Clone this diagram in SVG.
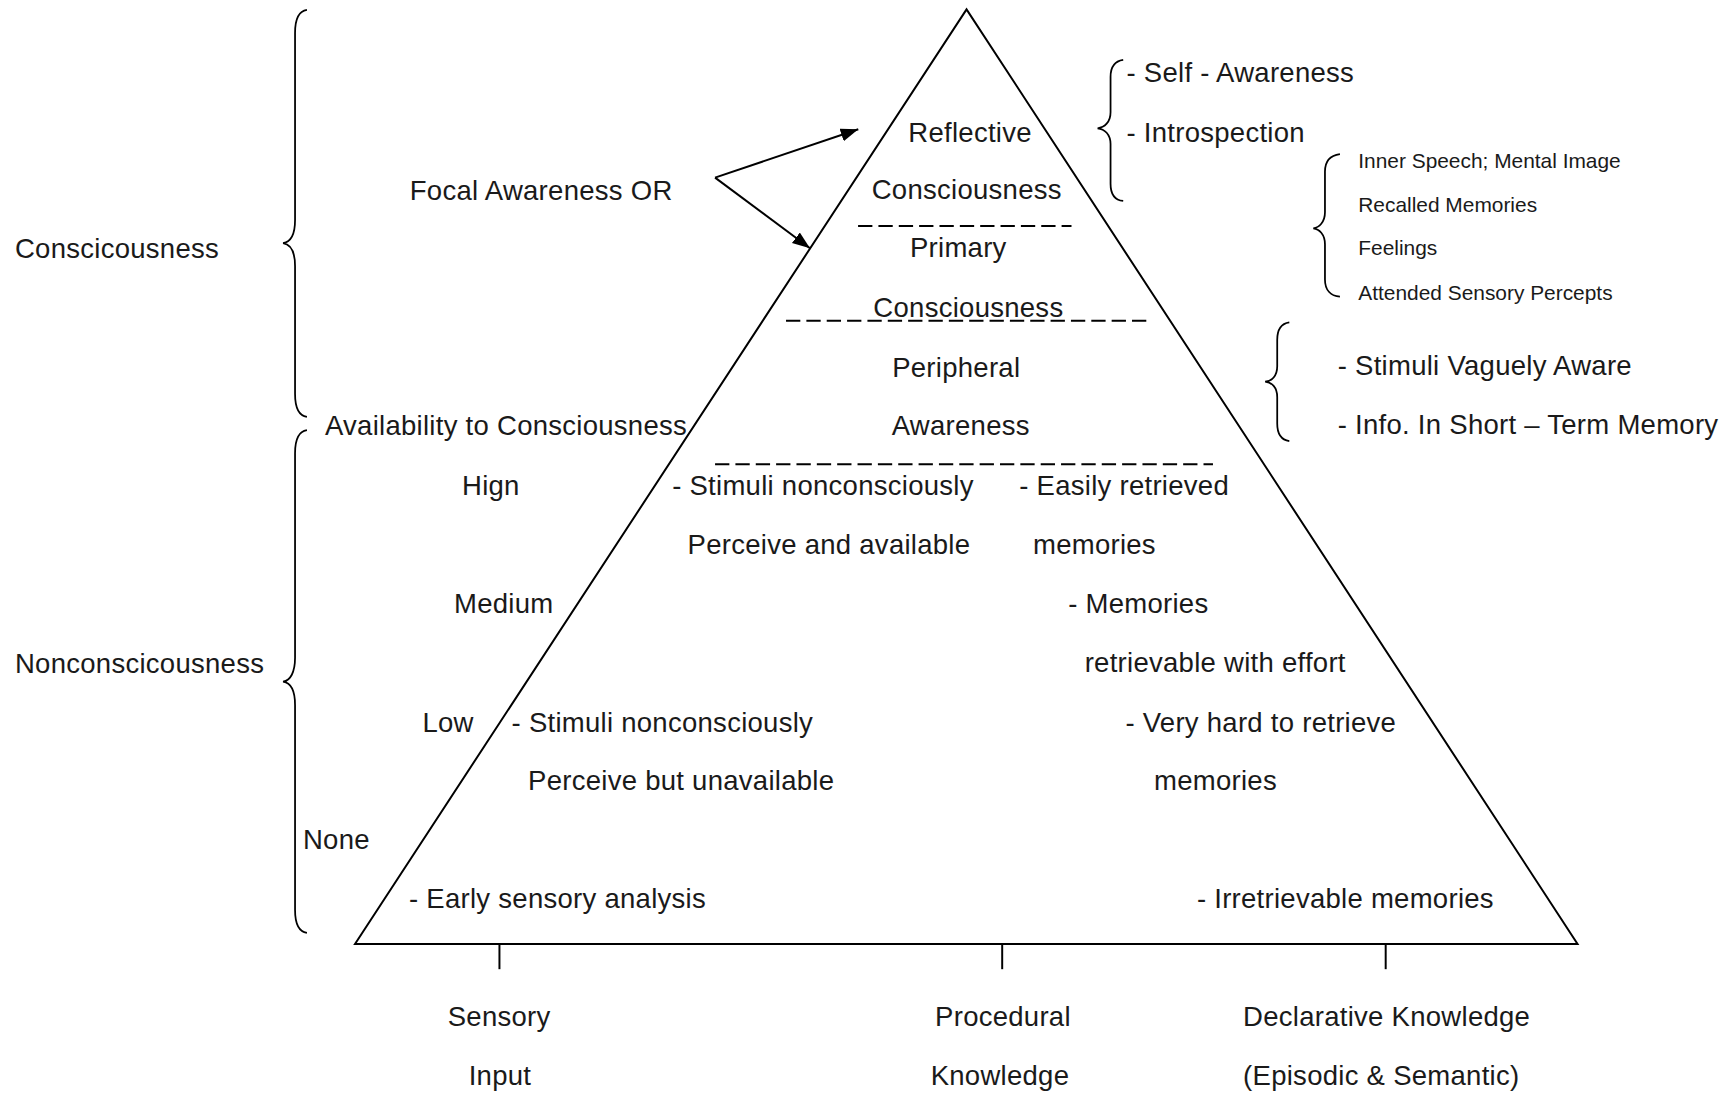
<svg xmlns="http://www.w3.org/2000/svg" width="1725" height="1094" viewBox="0 0 1725 1094">
  <style>
    text { font-family: "Liberation Sans", Arial, sans-serif; fill: #1a1a1a; }
    .t { font-size: 25px; letter-spacing: 0.25px; }
    .s { font-size: 19px; }
    .ln { stroke: #000; stroke-width: 1.8; fill: none; }
    .br { stroke: #000; stroke-width: 1.6; fill: none; }
    .dash { stroke: #000; stroke-width: 1.8; stroke-dasharray: 13 5.5; fill: none; }
  </style>
  <defs>
    <marker id="arrow" markerUnits="userSpaceOnUse" markerWidth="18" markerHeight="14" refX="16" refY="6" orient="auto">
      <path d="M0,0 L16,6 L0,12 z" fill="#000"/>
    </marker>
  </defs>
  <rect width="1725" height="1094" fill="#fff"/>
  <g transform="scale(1.1001)">
    <g id="pyramid">
      <polygon class="ln" points="878.6,8.5 322.7,858 1434,858" stroke-linejoin="miter"/>
      <line class="dash" x1="780" y1="205.4" x2="974" y2="205.4"/>
      <line class="dash" x1="714.5" y1="291.5" x2="1042.4" y2="291.5"/>
      <line class="dash" x1="650" y1="422" x2="1102.6" y2="422"/>
      <line class="ln" x1="454" y1="858" x2="454" y2="881"/>
      <line class="ln" x1="911" y1="858" x2="911" y2="881"/>
      <line class="ln" x1="1259.6" y1="858" x2="1259.6" y2="881"/>
    </g>
    <g id="connectors">
      <line class="ln" x1="650" y1="161.5" x2="780.2" y2="117.5" marker-end="url(#arrow)"/>
      <line class="ln" x1="650" y1="161.5" x2="736.3" y2="225.7" marker-end="url(#arrow)"/>
    </g>
    <g id="braces">
      <path id="brace-conscious" class="br" d="M279,9 C272,10 268.2,16 268.2,30 L268.2,200 C268.2,213 264,220 257.3,221 C264,222 268.2,229 268.2,242 L268.2,358 C268.2,372 272,378 279,379"/>
      <path id="brace-nonconscious" class="br" d="M279,391 C272,392 268.2,398 268.2,412 L268.2,598 C268.2,611 264,618.7 257.3,619.7 C264,620.7 268.2,628 268.2,641 L268.2,827 C268.2,841 272,847 279,848"/>
      <path id="brace-reflective" class="br" d="M1021,54.5 C1014,55.5 1009.5,60 1009.5,70 L1009.5,102 C1009.5,111 1004,116 997.7,116.6 C1004,117.2 1009.5,122 1009.5,131 L1009.5,167 C1009.5,177 1014,182 1021,182.7"/>
      <path id="brace-primary" class="br" d="M1218,140 C1210,141 1204.4,146 1204.4,156 L1204.4,193 C1204.4,202 1199,207 1193.8,207.5 C1199,208 1204.4,213 1204.4,222 L1204.4,254 C1204.4,264 1210,269 1218,269.7"/>
      <path id="brace-peripheral" class="br" d="M1172,293 C1165,294 1161,299 1161,309 L1161,333 C1161,342 1156,346.5 1150,347 C1156,347.5 1161,352 1161,361 L1161,385 C1161,395 1165,400 1172,401"/>
    </g>
    <g id="label-consciousness"><text class="t" x="13.6" y="234.5">Conscicousness</text></g>
    <g id="label-nonconsciousness"><text class="t" x="13.6" y="611.5">Nonconscicousness</text></g>
    <g id="label-focal"><text class="t" x="372.5" y="181.5">Focal Awareness OR</text></g>
    <g id="label-availability"><text class="t" x="295.4" y="395.4">Availability to Consciousness</text></g>
    <g id="level-high"><text class="t" x="420" y="450">Hign</text></g>
    <g id="level-medium"><text class="t" x="412.7" y="557">Medium</text></g>
    <g id="level-low"><text class="t" x="384" y="665">Low</text></g>
    <g id="level-none"><text class="t" x="275.4" y="771.8">None</text></g>
    <g id="node-reflective">
      <text class="t" x="825.7" y="128.8">Reflective</text>
      <text class="t" x="792.4" y="181.2">Consciousness</text>
    </g>
    <g id="node-primary">
      <text class="t" x="827.2" y="233.3">Primary</text>
      <text class="t" x="793.9" y="287.9">Consciousness</text>
    </g>
    <g id="node-peripheral">
      <text class="t" x="811" y="342.4">Peripheral</text>
      <text class="t" x="810.6" y="395.4">Awareness</text>
    </g>
    <g id="node-high-sensory">
      <text class="t" x="611" y="450">- Stimuli nonconsciously</text>
      <text class="t" x="625" y="503.5">Perceive and available</text>
    </g>
    <g id="node-high-declarative">
      <text class="t" x="926.5" y="450">- Easily retrieved</text>
      <text class="t" x="939" y="503.5">memories</text>
    </g>
    <g id="node-medium-declarative">
      <text class="t" x="971" y="557">- Memories</text>
      <text class="t" x="986" y="611">retrievable with effort</text>
    </g>
    <g id="node-low-sensory">
      <text class="t" x="465" y="665">- Stimuli nonconsciously</text>
      <text class="t" x="480" y="718.5">Perceive but unavailable</text>
    </g>
    <g id="node-low-declarative">
      <text class="t" x="1023" y="665">- Very hard to retrieve</text>
      <text class="t" x="1049" y="718.5">memories</text>
    </g>
    <g id="node-none-sensory"><text class="t" x="371.8" y="825.4">- Early sensory analysis</text></g>
    <g id="node-none-declarative"><text class="t" x="1088" y="825.4">- Irretrievable memories</text></g>
    <g id="list-reflective">
      <text class="t" x="1024" y="74.3">- Self - Awareness</text>
      <text class="t" x="1024" y="128.8">- Introspection</text>
    </g>
    <g id="list-primary">
      <text class="s" x="1234.7" y="153">Inner Speech; Mental Image</text>
      <text class="s" x="1234.7" y="192.4">Recalled Memories</text>
      <text class="s" x="1234.7" y="231.8">Feelings</text>
      <text class="s" x="1234.7" y="272.7">Attended Sensory Percepts</text>
    </g>
    <g id="list-peripheral">
      <text class="t" x="1216" y="341">- Stimuli Vaguely Aware</text>
      <text class="t" x="1216" y="394.5">- Info. In Short – Term Memory</text>
    </g>
    <g id="axis-sensory">
      <text class="t" x="407" y="933">Sensory</text>
      <text class="t" x="426" y="986.5">Input</text>
    </g>
    <g id="axis-procedural">
      <text class="t" x="850" y="933">Procedural</text>
      <text class="t" x="846" y="986.5">Knowledge</text>
    </g>
    <g id="axis-declarative">
      <text class="t" x="1130" y="933">Declarative Knowledge</text>
      <text class="t" x="1130" y="986.5">(Episodic &amp; Semantic)</text>
    </g>
  </g>
</svg>
